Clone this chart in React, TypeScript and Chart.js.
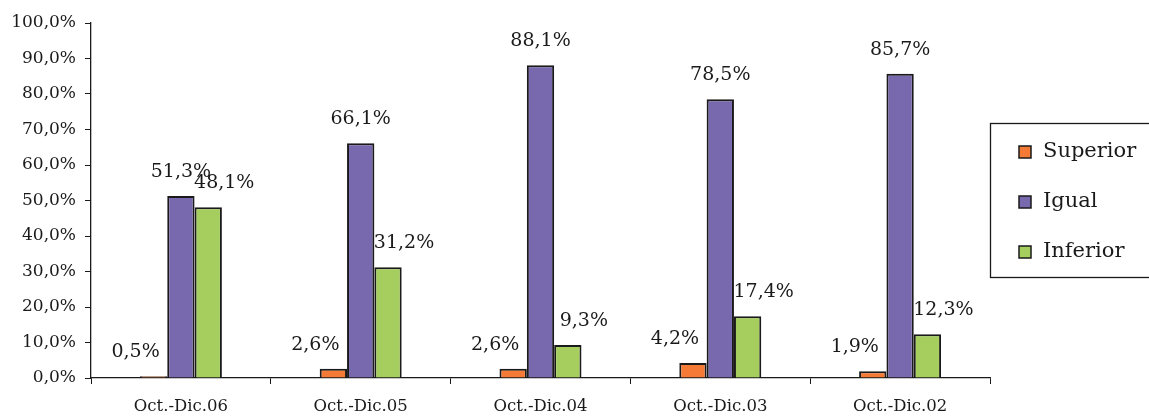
import React, { useEffect, useRef } from "react";
import { Chart, registerables } from "chart.js";

Chart.register(...registerables);

const categories = ["Oct.-Dic.06", "Oct.-Dic.05", "Oct.-Dic.04", "Oct.-Dic.03", "Oct.-Dic.02"];
const superior = [0.5, 2.6, 2.6, 4.2, 1.9];
const igual = [51.3, 66.1, 88.1, 78.5, 85.7];
const inferior = [48.1, 31.2, 9.3, 17.4, 12.3];
const seriesNames = ["Superior", "Igual", "Inferior"];
const seriesColors = ["#F47A36", "#7868AD", "#A6CE5E"];

const FONT = "'DejaVu Serif', serif";
const fmt = (v: number) => v.toFixed(1).replace(".", ",") + "%";

const labelPlugin = {
  id: "valueLabels",
  afterDatasetsDraw(chart: any) {
    const ctx = chart.ctx;
    const xShift = [-18, 0, 16];
    ctx.save();
    ctx.font = `19px ${FONT}`;
    ctx.fillStyle = "#1a1a1a";
    ctx.textAlign = "center";
    ctx.textBaseline = "middle";
    chart.data.datasets.forEach((ds: any, di: number) => {
      const meta = chart.getDatasetMeta(di);
      meta.data.forEach((bar: any, i: number) => {
        ctx.fillText(fmt(ds.data[i]), bar.x + xShift[di], bar.y - 24);
      });
    });
    ctx.restore();
  },
};

const legendPlugin = {
  id: "boxLegend",
  afterDraw(chart: any) {
    const ctx = chart.ctx;
    const left = chart.chartArea.right;
    const top = 123;
    const bottom = 277;
    ctx.save();
    ctx.strokeStyle = "#1a1a1a";
    ctx.lineWidth = 1.3;
    ctx.strokeRect(left + 0.5, top + 0.5, chart.width - left + 5, bottom - top);
    ctx.font = `21px ${FONT}`;
    ctx.textBaseline = "middle";
    ctx.textAlign = "left";
    chart.data.datasets.forEach((ds: any, i: number) => {
      const cy = 152 + i * 50;
      ctx.fillStyle = ds.backgroundColor;
      ctx.fillRect(left + 29, cy - 6, 12, 12);
      ctx.strokeStyle = "#1a1a1a";
      ctx.lineWidth = 1.5;
      ctx.strokeRect(left + 29, cy - 6, 12, 12);
      ctx.fillStyle = "#1a1a1a";
      ctx.fillText(ds.label, left + 53, cy);
    });
    ctx.restore();
  },
};

export default function App() {
  const ref = useRef<HTMLCanvasElement>(null);
  useEffect(() => {
    if (!ref.current) return;
    const values = [superior, igual, inferior];
    const chart = new Chart(ref.current, {
      type: "bar",
      data: {
        labels: categories,
        datasets: values.map((d, i) => ({
          label: seriesNames[i],
          data: d,
          backgroundColor: seriesColors[i],
          borderColor: "#1a1a1a",
          borderWidth: 2,
          categoryPercentage: 0.456,
          barPercentage: 1,
        })),
      },
      options: {
        responsive: false,
        animation: false,
        layout: { padding: { top: 23, right: 159, left: 0, bottom: 0 } },
        plugins: { legend: { display: false }, tooltip: { enabled: false } },
        scales: {
          x: {
            grid: { drawOnChartArea: false, drawTicks: true, tickLength: 6, color: "#1a1a1a", offset: true },
            border: { display: true, color: "#1a1a1a", width: 1.3 },
            ticks: { color: "#1a1a1a", font: { family: FONT, size: 16.5 }, padding: 13, maxRotation: 0 },
            afterFit: (s: any) => { s.height = 38; },
          },
          y: {
            min: 0,
            max: 100,
            grid: { drawOnChartArea: false, drawTicks: true, tickLength: 6, color: "#1a1a1a" },
            border: { display: true, color: "#1a1a1a", width: 1.3 },
            ticks: {
              stepSize: 10,
              color: "#1a1a1a",
              font: { family: FONT, size: 17 },
              padding: 9,
              callback: (v: any) => fmt(Number(v)),
            },
            afterFit: (s: any) => { s.width = 91; },
          },
        },
      },
      plugins: [labelPlugin, legendPlugin],
    });
    return () => chart.destroy();
  }, []);
  return (
    <div style={{ position: "fixed", left: 0, top: 0, width: 1149, height: 416, background: "#fff" }}>
      <canvas ref={ref} width={1149} height={416} />
    </div>
  );
}
